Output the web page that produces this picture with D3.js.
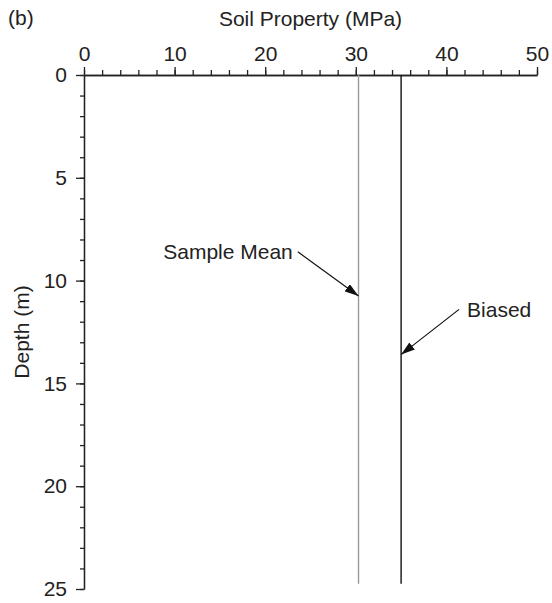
<!DOCTYPE html>
<html>
<head>
<meta charset="utf-8">
<script src="https://cdn.jsdelivr.net/npm/d3@7"></script>
<style>
  body { margin: 0; background: #fff; }
  svg text { font-family: "Liberation Sans", Arial, sans-serif; fill: #222; }
</style>
</head>
<body>
<div id="chart"></div>
<script>
// Data
var xMajorTicks = [0, 10, 20, 30, 40, 50];
var yMajorTicks = [0, 5, 10, 15, 20, 25];
var seriesNames = ["Sample Mean", "Biased"];
var seriesValues = [30.3, 35];          // MPa
var seriesColors = ["#9a9a9a", "#111"];
var depthRange = [0, 24.75];            // m, extent of both profiles
// annotation arrows: [value, depth] at tail and at tip
var arrowFrom = [[23.6, 8.6], [41.4, 11.4]];
var arrowTo = [[30.3, 10.75], [35, 13.6]];

var width = 552, height = 603;
var margin = {top: 75, right: 15, bottom: 14, left: 84};
var fontSize = '21px';

var svg = d3.select('#chart').append('svg')
    .attr('width', width)
    .attr('height', height);

var x = d3.scaleLinear().domain([0, 50]).range([margin.left, width - margin.right]);
var y = d3.scaleLinear().domain([0, 25]).range([margin.top, height - margin.bottom]);

// Arrow head
svg.append('defs').append('marker')
    .attr('id', 'arrow')
    .attr('viewBox', '0 0 14 9')
    .attr('refX', 14)
    .attr('refY', 4.5)
    .attr('markerWidth', 14)
    .attr('markerHeight', 9)
    .attr('markerUnits', 'userSpaceOnUse')
    .attr('orient', 'auto')
    .append('path')
    .attr('d', 'M0,0 L14,4.5 L0,9 Z')
    .attr('fill', '#111');

// Minor ticks first
svg.append('g')
    .attr('class', 'axis')
    .attr('transform', 'translate(0,' + margin.top + ')')
    .call(d3.axisTop(x).tickValues(d3.range(0, 51, 2)).tickSize(5).tickSizeOuter(0).tickFormat(''));
svg.append('g')
    .attr('class', 'axis')
    .attr('transform', 'translate(' + margin.left + ',0)')
    .call(d3.axisLeft(y).tickValues(d3.range(0, 26, 1)).tickSize(4).tickSizeOuter(0).tickFormat(''));

// Major ticks + labels
svg.append('g')
    .attr('class', 'axis')
    .attr('transform', 'translate(0,' + margin.top + ')')
    .call(d3.axisTop(x).tickValues(xMajorTicks).tickSize(8).tickSizeOuter(0).tickPadding(6));
svg.append('g')
    .attr('class', 'axis')
    .attr('transform', 'translate(' + margin.left + ',0)')
    .call(d3.axisLeft(y).tickValues(yMajorTicks).tickSize(8).tickSizeOuter(0).tickPadding(9));

svg.selectAll('.axis path, .axis line')
    .attr('stroke', '#222')
    .attr('stroke-width', 1.3);
svg.selectAll('.axis text')
    .style('font-size', fontSize)
    .attr('fill', '#222');

// Axis titles
svg.append('text')
    .attr('x', (x(0) + x(50)) / 2)
    .attr('y', 26)
    .attr('text-anchor', 'middle')
    .style('font-size', fontSize)
    .text('Soil Property (MPa)');

svg.append('text')
    .attr('transform', 'translate(29,' + ((y(0) + y(25)) / 2) + ') rotate(-90)')
    .attr('text-anchor', 'middle')
    .style('font-size', fontSize)
    .text('Depth (m)');

svg.append('text')
    .attr('x', 8)
    .attr('y', 25)
    .style('font-size', fontSize)
    .text('(b)');

// Vertical profiles
svg.selectAll('.profile')
    .data(seriesValues)
    .enter()
    .append('line')
    .attr('class', 'profile')
    .attr('x1', function(d) { return x(d); })
    .attr('x2', function(d) { return x(d); })
    .attr('y1', y(depthRange[0]))
    .attr('y2', y(depthRange[1]))
    .attr('stroke', function(d, i) { return seriesColors[i]; })
    .attr('stroke-width', 1.4);

// Annotation arrows
svg.selectAll('.arrow')
    .data(seriesNames)
    .enter()
    .append('line')
    .attr('class', 'arrow')
    .attr('x1', function(d, i) { return x(arrowFrom[i][0]); })
    .attr('y1', function(d, i) { return y(arrowFrom[i][1]); })
    .attr('x2', function(d, i) { return x(arrowTo[i][0]); })
    .attr('y2', function(d, i) { return y(arrowTo[i][1]); })
    .attr('stroke', '#111')
    .attr('stroke-width', 1.2)
    .attr('marker-end', 'url(#arrow)');

// Annotation labels
svg.selectAll('.note')
    .data(seriesNames)
    .enter()
    .append('text')
    .attr('class', 'note')
    .attr('x', function(d, i) { return x(arrowFrom[i][0]) + (i === 0 ? -5 : 8); })
    .attr('y', function(d, i) { return y(arrowFrom[i][1]); })
    .attr('dy', '0.35em')
    .attr('text-anchor', function(d, i) { return i === 0 ? 'end' : 'start'; })
    .style('font-size', fontSize)
    .text(function(d) { return d; });
</script>
</body>
</html>
